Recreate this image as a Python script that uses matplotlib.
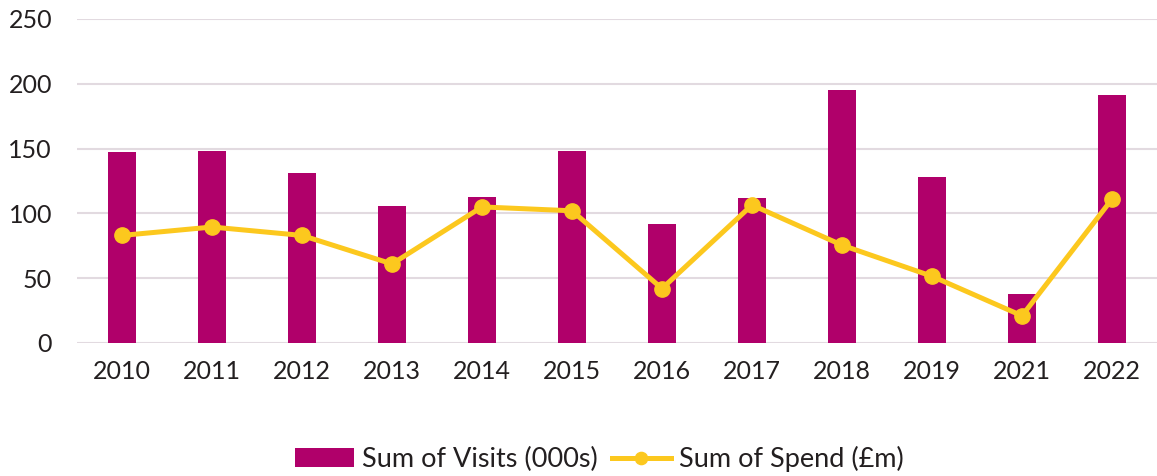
import numpy as np
import matplotlib.pyplot as plt

years = ['2010', '2011', '2012', '2013', '2014', '2015', '2016', '2017', '2018', '2019', '2021', '2022']
visits = [147, 148, 131, 106, 113, 148, 92, 112, 195, 128, 38, 191]
spend = [83, 89.5, 83, 61, 105, 102, 42, 106.5, 75.5, 51.5, 21, 111]

plt.rcParams['font.family'] = ['Lato', 'DejaVu Sans']
txt = '#231F20'

fig = plt.figure(figsize=(11.57, 4.76), dpi=100)
ax = fig.add_axes([77/1157, (476-343)/476, 1-77/1157, (343-19)/476])

x = np.arange(len(years))
bars = ax.bar(x, visits, width=0.31, color='#B0006A', label='Sum of Visits (000s)', zorder=2)
line, = ax.plot(x, spend, color='#FCC81E', lw=3.6, marker='o', ms=11, label='Sum of Spend (£m)', zorder=3)

ax.set_ylim(0, 250)
ax.set_xlim(-0.5, len(years)-0.5)
ax.set_yticks(range(0, 251, 50))
ax.set_xticks(x)
ax.set_xticklabels(years)
ax.grid(axis='y', color='#E2DAE0', lw=1.5, zorder=0)
for s in ax.spines.values():
    s.set_visible(False)
ax.tick_params(length=0, labelsize=18, colors=txt, pad=12)
ax.tick_params(axis='y', pad=18)

fig.legend(handles=[bars, line], loc='center', bbox_to_anchor=(0.518, 0.035), ncol=2, frameon=False,
           fontsize=19.5, labelcolor=txt, handlelength=2.2, handletextpad=0.3,
           columnspacing=0.5, markerscale=0.8)

plt.savefig('out.png', dpi=100)
plt.close()
